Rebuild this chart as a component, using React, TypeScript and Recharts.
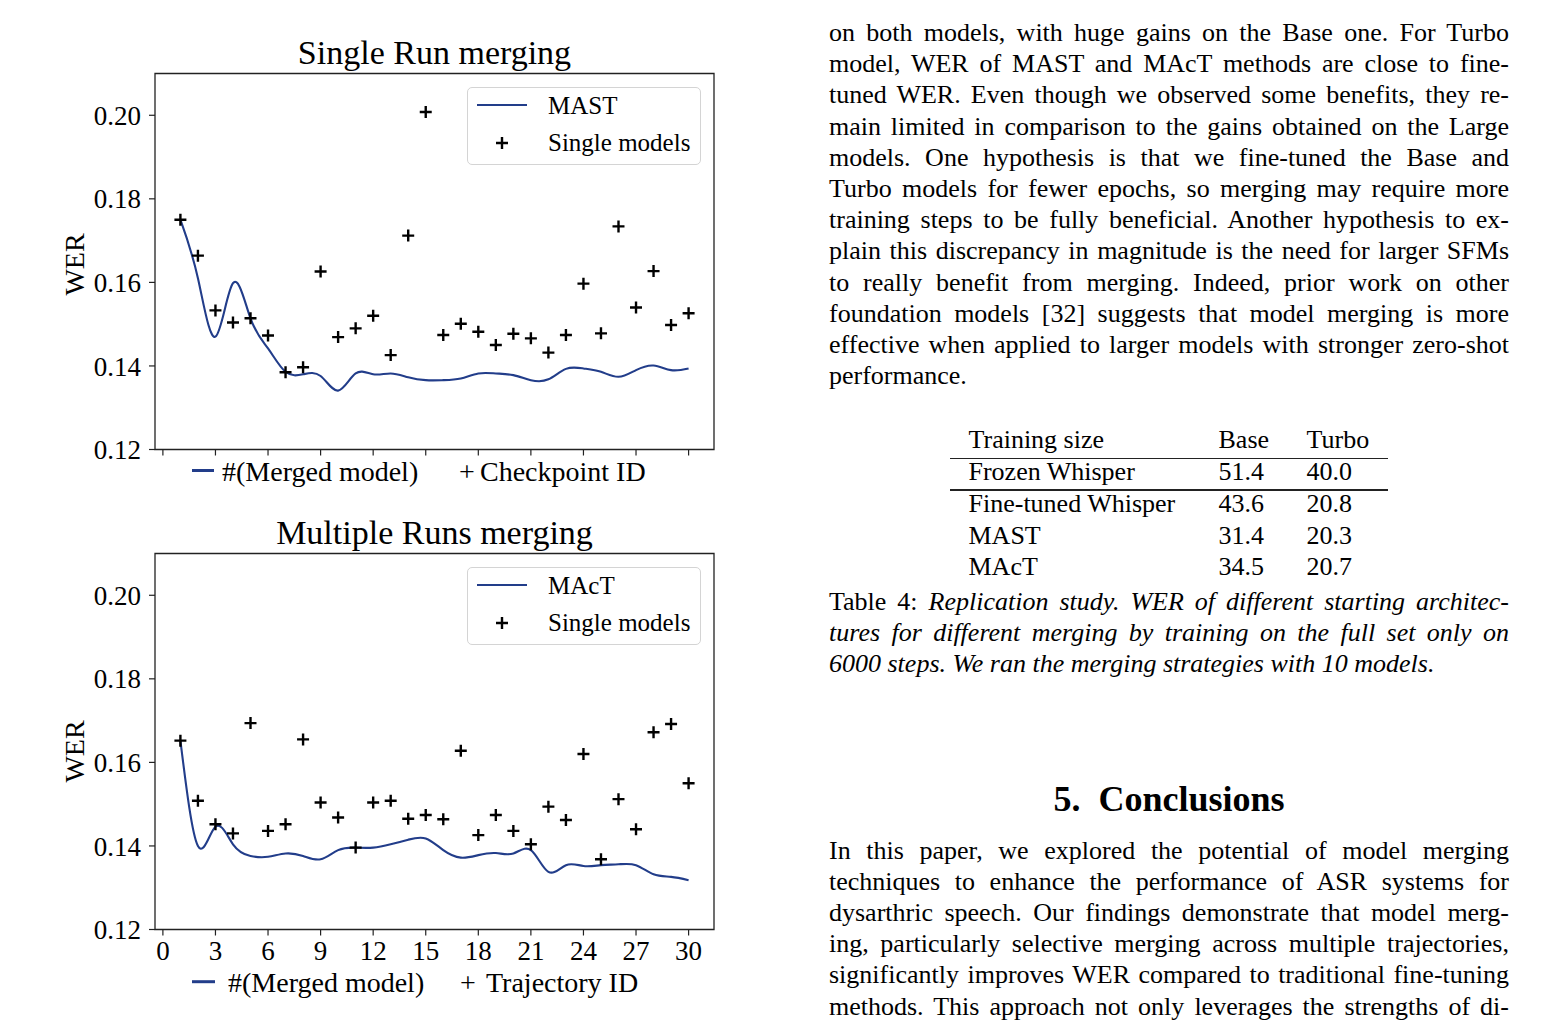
import { ComposedChart, Line, Scatter, XAxis, YAxis, ReferenceArea, Legend } from 'recharts'

const SERIF = '"Liberation Serif", "Times New Roman", serif'
const NAVY = '#223d8a'

// x positions (checkpoint / trajectory id)
const ids = [1, 2, 3, 4, 5, 6, 7, 8, 9, 10, 11, 12, 13, 14, 15, 16, 17, 18, 19, 20, 21, 22, 23, 24, 25, 26, 27, 28, 29, 30]

// Single Run merging
const mastCurve = [0.175, 0.161, 0.147, 0.1598, 0.1514, 0.1442, 0.1386, 0.138, 0.1376, 0.1341, 0.1382, 0.138, 0.1382, 0.1373, 0.1366, 0.1366, 0.137, 0.1382, 0.1382, 0.1378, 0.1366, 0.1368, 0.1393, 0.1394, 0.1386, 0.1374, 0.139, 0.1401, 0.139, 0.1394]
const singleRunModels = [0.175, 0.1664, 0.1533, 0.1504, 0.1514, 0.1473, 0.1385, 0.1397, 0.1626, 0.1469, 0.149, 0.152, 0.1426, 0.1712, 0.2008, 0.1474, 0.1501, 0.1482, 0.145, 0.1477, 0.1466, 0.1432, 0.1474, 0.1597, 0.1478, 0.1734, 0.154, 0.1627, 0.1498, 0.1526]

// Multiple Runs merging
const mactCurve = [0.1652, 0.14, 0.1446, 0.1404, 0.1376, 0.1374, 0.1382, 0.1376, 0.1368, 0.139, 0.1396, 0.1396, 0.1404, 0.1415, 0.1418, 0.139, 0.1372, 0.1378, 0.1383, 0.1382, 0.139, 0.1338, 0.1354, 0.1352, 0.1354, 0.1356, 0.1354, 0.1332, 0.1326, 0.1318]
const multiRunModels = [0.1652, 0.1508, 0.1452, 0.143, 0.1694, 0.1436, 0.1452, 0.1655, 0.1504, 0.1468, 0.1396, 0.1504, 0.1508, 0.1465, 0.1474, 0.1464, 0.1628, 0.1426, 0.1474, 0.1436, 0.1404, 0.1494, 0.1462, 0.162, 0.1368, 0.1512, 0.144, 0.1672, 0.1692, 0.155]

const xTicks = [0, 3, 6, 9, 12, 15, 18, 21, 24, 27, 30]
const yTicks = [0.12, 0.14, 0.16, 0.18, 0.2]
const xDomain = [-0.45, 31.45]
const yDomain = [0.12, 0.21]

const Plus = (props: any) => {
  const { cx, cy } = props
  if (cx == null || cy == null) return null
  return <path d={`M${cx - 6},${cy}H${cx + 6}M${cx},${cy - 6}V${cy + 6}`} stroke="#000" strokeWidth={2.4} fill="none" />
}

const NoLabel = () => <g />

const legendBox = (lineName: string) => () => (
  <div style={{ position: 'relative', width: 234, height: 78, boxSizing: 'border-box', border: '1px solid #d4d4d4', borderRadius: 5, background: '#fff' }}>
    <svg width={234} height={78} style={{ position: 'absolute', left: -1, top: -1 }}>
      <line x1={10} x2={60} y1={18} y2={18} stroke={NAVY} strokeWidth={2} />
      <path d="M29,56H41M35,50V62" stroke="#000" strokeWidth={2.4} fill="none" />
      <text x={81} y={27.3} fontFamily={SERIF} fontSize={25} fill="#000">{lineName}</text>
      <text x={81} y={63.5} fontFamily={SERIF} fontSize={25} fill="#000">Single models</text>
    </svg>
  </div>
)

function MergeChart({ curve, singles, lineName, showTickLabels, top }: { curve: number[]; singles: number[]; lineName: string; showTickLabels: boolean; top: number }) {
  const data = ids.map((id, i) => ({ id, merged: curve[i], single: singles[i] }))
  return (
    <div style={{ position: 'absolute', left: 0, top }}>
      <ComposedChart width={740} height={510} data={data} margin={{ top: 73.5, right: 26, bottom: 20.5, left: 55 }}>
        <XAxis
          dataKey="id"
          type="number"
          domain={xDomain}
          ticks={xTicks}
          interval={0}
          allowDataOverflow
          axisLine={false}
          tickLine={{ stroke: '#222', strokeWidth: 1.2 }}
          tickSize={6}
          tickMargin={5}
          height={40}
          tick={showTickLabels ? { fontSize: 27, fill: '#000', fontFamily: SERIF } : NoLabel}
        />
        <YAxis
          type="number"
          domain={yDomain}
          ticks={yTicks}
          interval={0}
          allowDataOverflow
          axisLine={false}
          tickLine={{ stroke: '#222', strokeWidth: 1.2 }}
          tickSize={6}
          tickMargin={8}
          width={100}
          tickFormatter={(v: number) => v.toFixed(2)}
          tick={{ fontSize: 27, fill: '#000', fontFamily: SERIF }}
        />
        <ReferenceArea x1={xDomain[0]} x2={xDomain[1]} y1={yDomain[0]} y2={yDomain[1]} fill="none" stroke="#222" strokeWidth={1.3} ifOverflow="visible" />
        <Line type="natural" dataKey="merged" stroke={NAVY} strokeWidth={2.1} dot={false} isAnimationActive={false} />
        <Scatter dataKey="single" shape={Plus} isAnimationActive={false} />
        <Legend layout="vertical" align="center" verticalAlign="middle" wrapperStyle={{ left: 467, top: 87 }} content={legendBox(lineName)} />
      </ComposedChart>
    </div>
  )
}

const para1 = [
  'on both models, with huge gains on the Base one.  For Turbo',
  'model, WER of MAST and MAcT methods are close to fine-',
  'tuned WER. Even though we observed some benefits, they re-',
  'main limited in comparison to the gains obtained on the Large',
  'models.  One hypothesis is that we fine-tuned the Base and',
  'Turbo models for fewer epochs, so merging may require more',
  'training steps to be fully beneficial.  Another hypothesis to ex-',
  'plain this discrepancy in magnitude is the need for larger SFMs',
  'to really benefit from merging.  Indeed, prior work on other',
  'foundation models [32] suggests that model merging is more',
  'effective when applied to larger models with stronger zero-shot',
  'performance.',
]

const para2 = [
  'In this paper, we explored the potential of model merging',
  'techniques to enhance the performance of ASR systems for',
  'dysarthric speech.  Our findings demonstrate that model merg-',
  'ing, particularly selective merging across multiple trajectories,',
  'significantly improves WER compared to traditional fine-tuning',
  'methods.  This approach not only leverages the strengths of di-',
]

const tableRows = [
  ['Frozen Whisper', '51.4', '40.0'],
  ['Fine-tuned Whisper', '43.6', '20.8'],
  ['MAST', '31.4', '20.3'],
  ['MAcT', '34.5', '20.7'],
]
const rowBaselines = [480, 512.5, 544, 575]

const lineStyle = (last: boolean): React.CSSProperties => ({
  textAlign: 'justify',
  textAlignLast: last ? 'left' : 'justify',
  wordSpacing: last ? 0 : -3,
  height: 31.2,
})

function Paragraph({ lines, top, lastFull }: { lines: React.ReactNode[]; top: number; lastFull?: boolean }) {
  return (
    <div style={{ position: 'absolute', left: 829, top, width: 680, fontSize: 26, lineHeight: '31.2px' }}>
      {lines.map((l, i) => (
        <div key={i} style={lineStyle(i === lines.length - 1 && !lastFull)}>{l}</div>
      ))}
    </div>
  )
}

const at = (baseline: number) => baseline - 24.4

export default function App() {
  return (
    <div style={{ position: 'absolute', left: 0, top: 0, width: 1568, height: 1031, background: '#fff', fontFamily: SERIF, color: '#000', overflow: 'hidden' }}>
      <MergeChart curve={mastCurve} singles={singleRunModels} lineName="MAST" showTickLabels={false} top={0} />
      <MergeChart curve={mactCurve} singles={multiRunModels} lineName="MAcT" showTickLabels={true} top={480} />

      <svg width={740} height={1031} style={{ position: 'absolute', left: 0, top: 0, pointerEvents: 'none' }} fontFamily={SERIF}>
        <text x={434.5} y={63.5} textAnchor="middle" fontSize={34}>Single Run merging</text>
        <text x={434.5} y={543.5} textAnchor="middle" fontSize={34}>Multiple Runs merging</text>
        <text transform="translate(84,264.5) rotate(-90)" textAnchor="middle" fontSize={28}>WER</text>
        <text transform="translate(84,751.5) rotate(-90)" textAnchor="middle" fontSize={28}>WER</text>

        <line x1={192} x2={214} y1={470.5} y2={470.5} stroke={NAVY} strokeWidth={3} />
        <text x={222} y={481} fontSize={28}>#(Merged model)</text>
        <text x={467} y={481} fontSize={28} textAnchor="middle">+</text>
        <text x={480} y={481} fontSize={28}>Checkpoint ID</text>

        <line x1={192} x2={215} y1={981.7} y2={981.7} stroke={NAVY} strokeWidth={3} />
        <text x={228} y={992} fontSize={28}>#(Merged model)</text>
        <text x={468} y={992} fontSize={28} textAnchor="middle">+</text>
        <text x={486} y={992} fontSize={28}>Trajectory ID</text>
      </svg>

      <Paragraph lines={para1} top={at(41.5)} />

      <div style={{ position: 'absolute', left: 0, top: 0, fontSize: 26, lineHeight: '31.2px' }}>
        <div style={{ position: 'absolute', left: 968.5, top: at(448), whiteSpace: 'nowrap' }}>Training size</div>
        <div style={{ position: 'absolute', left: 1218.5, top: at(448) }}>Base</div>
        <div style={{ position: 'absolute', left: 1306.5, top: at(448) }}>Turbo</div>
        <div style={{ position: 'absolute', left: 950, top: 457.5, width: 438, height: 1.4, background: '#222' }} />
        <div style={{ position: 'absolute', left: 950, top: 489.3, width: 438, height: 1.4, background: '#222' }} />
        {tableRows.map((r, i) => (
          <div key={r[0]}>
            <div style={{ position: 'absolute', left: 968.5, top: at(rowBaselines[i]), whiteSpace: 'nowrap' }}>{r[0]}</div>
            <div style={{ position: 'absolute', left: 1218.5, top: at(rowBaselines[i]) }}>{r[1]}</div>
            <div style={{ position: 'absolute', left: 1306.5, top: at(rowBaselines[i]) }}>{r[2]}</div>
          </div>
        ))}
      </div>

      <Paragraph
        top={at(610)}
        lines={[
          <>Table 4: <i>Replication study. WER of different starting architec-</i></>,
          <i>tures for different merging by training on the full set only on</i>,
          <i>6000 steps. We ran the merging strategies with 10 models.</i>,
        ]}
      />

      <div style={{ position: 'absolute', left: 829, width: 680, top: 779, textAlign: 'center', fontSize: 36, fontWeight: 'bold', lineHeight: '40px', whiteSpace: 'pre' }}>
        5.  Conclusions
      </div>

      <Paragraph lines={para2} top={at(859)} lastFull />
    </div>
  )
}
